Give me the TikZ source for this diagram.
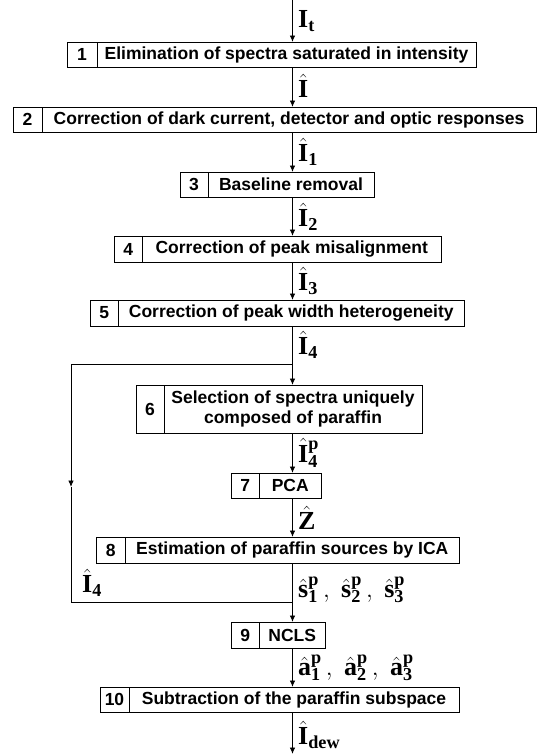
\documentclass[tikz,border=0pt]{standalone}
\usepackage{fontspec}
\setmainfont{Liberation Sans}
\setmathrm{Liberation Serif}
\setboldmathrm{Liberation Serif}
\usetikzlibrary{arrows.meta,positioning}

\newcommand{\bh}[1]{\hat{\mathbf{#1}}}

\tikzset{
  numcell/.style={draw, line width=0.9pt, inner sep=0pt, outer sep=0pt,
    font=\bfseries\fontsize{17.5}{20.5}\selectfont},
  txtcell/.style={numcell, align=center},
  flow/.style={-{Latex[length=6.5pt,width=5.5pt]}, line width=0.9pt},
  lbl/.style={anchor=west, inner sep=0pt, font=\fontsize{26}{29}\selectfont}
}

\begin{document}
\begin{tikzpicture}[x=1pt,y=-1pt]
      \useasboundingbox (0,0) rectangle (537,756);

      % Cajas de los pasos: numero / izquierda / divisor / derecha / centro y / alto / texto
      \foreach \k/\xl/\xd/\xr/\yc/\h/\txt in {
          1/67/97/476/54.5/25/{Elimination of spectra saturated in intensity},
          2/13/42/536/119.5/25/{Correction of dark current, detector and optic responses},
          3/180/208/374/184.5/25/{Baseline removal},
          4/114/142.5/441/249/26/{Correction of peak misalignment},
          5/90/118.5/464/313/26/{Correction of peak width heterogeneity},
          6/136/164/422/409/48/{Selection of spectra uniquely\\composed of paraffin},
          7/231/259.5/321/485.5/25/{PCA},
          8/96/125.5/459/550/26/{Estimation of paraffin sources by ICA},
          9/231/259.5/325/635/26/{NCLS},
          10/100/129/459/699.5/25/{Subtraction of the paraffin subspace}} {
          \node[numcell, minimum width={(\xd-\xl)*1pt}, minimum height=\h pt]
              (n\k) at ({(\xl+\xd)/2}, \yc) {\k};
          \node[txtcell, minimum width={(\xr-\xd)*1pt}, minimum height=\h pt,
              right=0pt of n\k] (t\k) {\txt};
      }

      % Eje del flujo
      \coordinate (ax) at (292.5,0);
      \coordinate (bot) at (292.5,754);
      \coordinate (split) at (292.5,364);
      \coordinate (lt) at (71,364);
      \coordinate (lmid) at (71,487);
      \coordinate (lb) at (71,602);
      \coordinate (join) at (292.5,602);

      % Flechas principales
      \draw[flow] (ax) -- (t1.north -| ax);
      \foreach \a/\b in {1/2,2/3,3/4,4/5,5/6,6/7,7/8,8/9,9/10} {
          \draw[flow] (t\a.south -| ax) -- (t\b.north -| ax);
      }
      \draw[flow] (t10.south -| ax) -- (bot);

      % Rama izquierda
      \draw[flow] (split) -- (lt) -- (lmid);
      \draw[line width=0.9pt] (lmid) -- (lb) -- (join);

      % Etiquetas de las flechas
      \node[lbl] (lIt) at (298,21) {$\mathbf{I}_{\mathbf{t}}$};
      \node[lbl] (lI) at (298,86) {$\bh{I}$};
      \node[lbl] (lI1) at (298,152) {$\bh{I}_{\mathbf{1}}$};
      \node[lbl] (lI2) at (298,217) {$\bh{I}_{\mathbf{2}}$};
      \node[lbl] (lI3) at (298,281) {$\bh{I}_{\mathbf{3}}$};
      \node[lbl] (lI4) at (298,345) {$\bh{I}_{\mathbf{4}}$};
      \node[lbl] (lI4p) at (298,453) {$\bh{I}^{\mathbf{p}}_{\mathbf{4}}$};
      \node[lbl] (lZ) at (298,518) {$\bh{Z}$};
      \node[lbl] (ls) at (298,590)
          {$\bh{s}^{\mathbf{p}}_{\mathbf{1}}\,,\ \bh{s}^{\mathbf{p}}_{\mathbf{2}}\,,\ \bh{s}^{\mathbf{p}}_{\mathbf{3}}$};
      \node[lbl] (la) at (298,668)
          {$\bh{a}^{\mathbf{p}}_{\mathbf{1}}\,,\ \bh{a}^{\mathbf{p}}_{\mathbf{2}}\,,\ \bh{a}^{\mathbf{p}}_{\mathbf{3}}$};
      \node[lbl] (ldew) at (298,735) {$\bh{I}_{\mathbf{dew}}$};
      \node[lbl] (lI4l) at (82,583) {$\bh{I}_{\mathbf{4}}$};
\end{tikzpicture}
\end{document}
